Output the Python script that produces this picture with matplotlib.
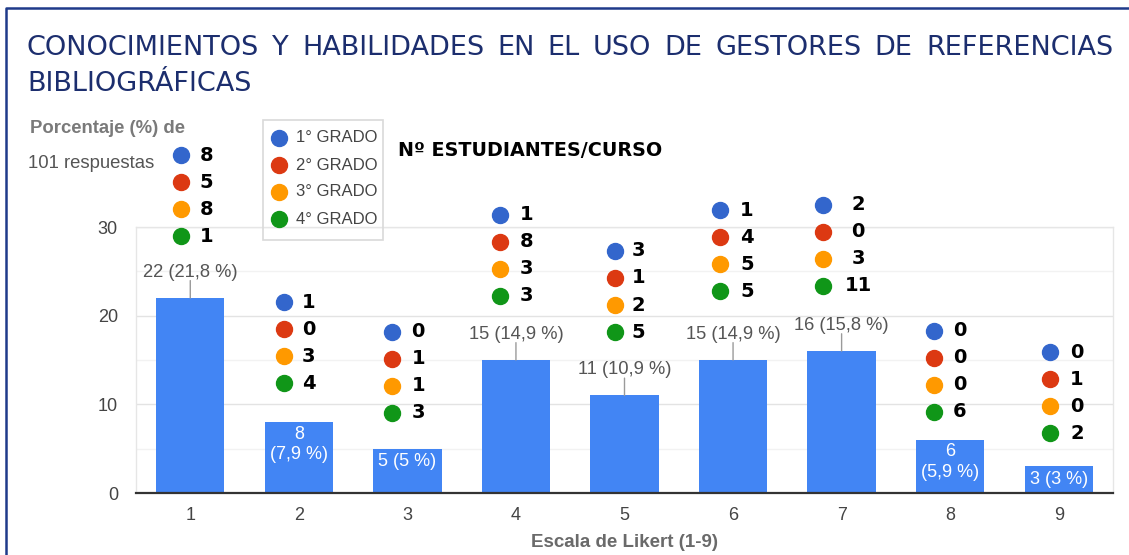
import matplotlib
matplotlib.use('Agg')
import matplotlib.pyplot as plt
from matplotlib.patches import Rectangle

# ---------------- data ----------------
categories = ['1', '2', '3', '4', '5', '6', '7', '8', '9']
counts = [22, 8, 5, 15, 11, 15, 16, 6, 3]
pct_labels = ['21,8', '7,9', '5', '14,9', '10,9', '14,9', '15,8', '5,9', '3']
grade_names = ['1° GRADO', '2° GRADO', '3° GRADO', '4° GRADO']
grado1 = [8, 1, 0, 1, 3, 1, 2, 0, 0]
grado2 = [5, 0, 1, 8, 1, 4, 0, 0, 1]
grado3 = [8, 3, 1, 3, 2, 5, 3, 0, 0]
grado4 = [1, 4, 3, 3, 5, 5, 11, 6, 2]
y_ticks = [0, 10, 20, 30]

# ---------------- layout / style ----------------
label_mode = ['out', 'in2', 'in1', 'out', 'out', 'out', 'out', 'in2', 'in1']
dot_top = [38.1, 21.5, 18.2, 31.4, 27.3, 31.9, 32.5, 18.3, 15.9]
dot_dx = [-0.09, -0.14, -0.14, -0.15, -0.09, -0.12, -0.17, -0.15, -0.08]
num_dx_px = [26, 25, 26, 27, 24, 27, 35, 26, 27]
dot_step = 3.05
grade_colors = ['#3366CC', '#DC3912', '#FF9900', '#109618']
bar_color = '#4285F4'

plt.rcParams['font.family'] = ['Liberation Sans', 'DejaVu Sans']

W, H = 1129, 555
fig = plt.figure(figsize=(W / 100, H / 100), dpi=100)
ax = fig.add_axes([136 / W, (H - 493) / H, 977 / W, 266 / H])

x = list(range(1, len(categories) + 1))
ax.bar(x, counts, width=0.63, color=bar_color, zorder=2)
ax.set_xlim(0.5, 9.5)
ax.set_ylim(0, 30)
ax.set_xticks(x)
ax.set_xticklabels(categories)
ax.set_yticks(y_ticks)
ax.set_yticks([5, 15, 25], minor=True)
ax.grid(axis='y', which='major', color='#e3e3e3', lw=1, zorder=0)
ax.grid(axis='y', which='minor', color='#f2f2f2', lw=1, zorder=0)
ax.set_axisbelow(True)
ax.tick_params(axis='both', which='both', length=0, labelsize=13, colors='#444444')
ax.tick_params(axis='y', pad=13)
ax.tick_params(axis='x', pad=10)
for s in ['left', 'right', 'top']:
    ax.spines[s].set_color('#e6e6e6')
    ax.spines[s].set_linewidth(1)
ax.spines['bottom'].set_color('#333333')
ax.spines['bottom'].set_linewidth(1.6)
ax.spines['bottom'].set_zorder(3)
ax.set_xlabel('Escala de Likert (1-9)', fontsize=13.5, fontweight='bold',
              color='#6a6a6a', labelpad=7)

# bar labels
for xi, v, p, mode in zip(x, counts, pct_labels, label_mode):
    if mode == 'out':
        ax.annotate(f'{v} ({p} %)', xy=(xi, v), xytext=(0, 12.5),
                    textcoords='offset points', ha='center', va='bottom',
                    fontsize=13.2, color='#555555', annotation_clip=False,
                    arrowprops=dict(arrowstyle='-', color='#9a9a9a', lw=1,
                                    shrinkA=0, shrinkB=0, patchA=None,
                                    relpos=(0.5, 0)))
    elif mode == 'in2':
        ax.annotate(f'{v}\n({p} %)', xy=(xi, v), xytext=(0, -2.5),
                    textcoords='offset points', ha='center', va='top',
                    fontsize=13, color='white', linespacing=1.25,
                    annotation_clip=False)
    else:
        ax.annotate(f'{v} ({p} %)', xy=(xi, v), xytext=(0, -3),
                    textcoords='offset points', ha='center', va='top',
                    fontsize=13, color='white', annotation_clip=False)

# per-course dots and counts
grades = [grado1, grado2, grado3, grado4]
for i, xi in enumerate(x):
    for k, g in enumerate(grades):
        yy = dot_top[i] - k * dot_step
        ax.plot(xi + dot_dx[i], yy, 'o', ms=11.5, color=grade_colors[k],
                clip_on=False, zorder=5)
        ax.annotate(str(g[i]), xy=(xi + dot_dx[i], yy),
                    xytext=(num_dx_px[i] * 0.72, 0), textcoords='offset points',
                    ha='center', va='center', fontsize=14, fontweight='bold',
                    family=['DejaVu Sans'], color='black', annotation_clip=False)

# ---------------- overlay (title, legend, frame) ----------------
ov = fig.add_axes([0, 0, 1, 1], zorder=10)
ov.set_xlim(0, W)
ov.set_ylim(H, 0)
ov.axis('off')
ov.patch.set_visible(False)

ov.plot([6, 6, W + 5], [H + 5, 8, 8], color='#1f3a8a', lw=1.8, clip_on=False)

title_color = '#1c2e6e'
title_fs = 19.5
line1 = 'CONOCIMIENTOS Y HABILIDADES EN EL USO DE GESTORES DE REFERENCIAS'.split()
renderer = fig.canvas.get_renderer()
texts = []
total = 0
for w in line1:
    t = ov.text(0, 55, w, fontsize=title_fs, color=title_color,
                family=['DejaVu Sans'], va='baseline', ha='left')
    bb = t.get_window_extent(renderer)
    texts.append((t, bb.width))
    total += bb.width
x0, x1 = 27, 1113
gap = (x1 - x0 - total) / (len(line1) - 1)
cx = x0
for t, wdt in texts:
    t.set_x(cx)
    cx += wdt + gap
ov.text(27, 91, 'BIBLIOGRÁFICAS', fontsize=title_fs, color=title_color,
        family=['DejaVu Sans'], va='baseline', ha='left')

ov.text(30, 133, 'Porcentaje (%) de', fontsize=13.3, fontweight='bold',
        color='#7a7a7a', va='baseline', ha='left')
ov.text(28, 168, '101 respuestas', fontsize=13.3, color='#555555',
        va='baseline', ha='left')

ov.add_patch(Rectangle((263, 120), 120, 120, fill=False, ec='#d9d9d9', lw=1.2))
for k, name in enumerate(grade_names):
    yy = 138 + k * 27
    ov.plot(279, yy, 'o', ms=11.5, color=grade_colors[k])
    ov.text(296, yy, name, fontsize=12, color='#444444', va='center', ha='left')

ov.text(398, 150, 'Nº ESTUDIANTES/CURSO', fontsize=13.8, fontweight='bold',
        family=['DejaVu Sans'], color='black', va='center', ha='left')

fig.savefig('out.png', dpi=100)
